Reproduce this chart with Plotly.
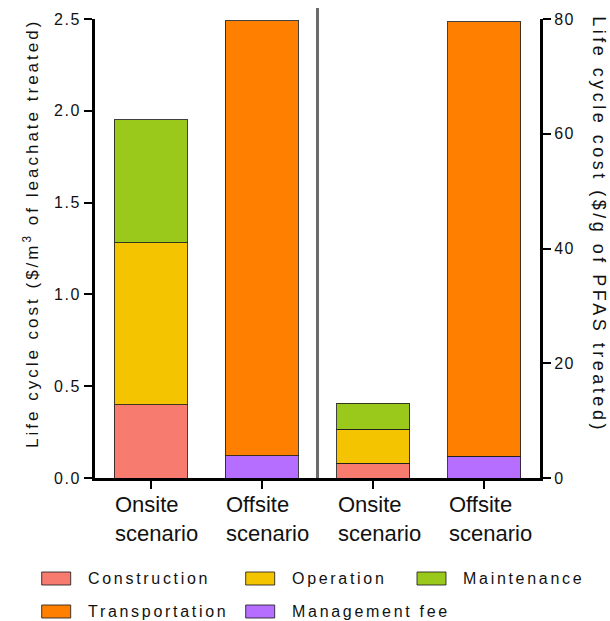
import plotly.graph_objects as go

# Category labels (one pair per panel)
scenario_labels = ["Onsite<br>scenario", "Offsite<br>scenario"]

# Left panel: life cycle cost per m3 of leachate treated [onsite, offsite]
m3_construction = [0.40, None]
m3_operation = [0.88, None]
m3_maintenance = [0.67, None]
m3_management = [None, 0.12]
m3_transportation = [None, 2.37]

# Right panel: life cycle cost per g of PFAS treated [onsite, offsite]
g_construction = [2.56, None]
g_operation = [5.93, None]
g_maintenance = [4.50, None]
g_management = [None, 3.83]
g_transportation = [None, 75.7]

left_pos = [0, 1]
right_pos = [2, 3]

FONT = "Liberation Sans, Arial, sans-serif"
OUTLINE = "rgba(30,30,30,0.85)"

# name, colour, per-m3 values, per-g values, legend slot (col, row)
series = [
    ("Construction", "#F87B6F", m3_construction, g_construction, (0, 0)),
    ("Operation", "#F5C400", m3_operation, g_operation, (1, 0)),
    ("Maintenance", "#9BC91B", m3_maintenance, g_maintenance, (2, 0)),
    ("Management fee", "#B56EFF", m3_management, g_management, (1, 1)),
    ("Transportation", "#FF8000", m3_transportation, g_transportation, (0, 1)),
]

fig = go.Figure()
for name, color, v_m3, v_g, _ in series:
    fig.add_trace(go.Bar(
        x=left_pos, y=v_m3, name=name, yaxis="y", width=0.656,
        marker=dict(color=color, line=dict(color=OUTLINE, width=1)),
        legendgroup=name, showlegend=False,
    ))
    fig.add_trace(go.Bar(
        x=right_pos, y=v_g, name=name, yaxis="y2", width=0.656,
        marker=dict(color=color, line=dict(color=OUTLINE, width=1)),
        legendgroup=name, showlegend=False,
    ))

# plot area in pixels: x 95..540, y 19..478
W, H = 610, 621
L, R, T, B = 95, 70, 19, 143
pw, ph = W - L - R, H - T - B


def px_x(px):
    return (px - L) / pw


def px_y(py):
    return (H - B - py) / ph


axis_common = dict(
    showline=True, linecolor="black", linewidth=3,
    ticks="outside", ticklen=8, tickwidth=2, tickcolor="black",
    showgrid=False, zeroline=False,
    tickfont=dict(family=FONT, size=16, color="#111"),
)

fig.update_layout(
    width=W, height=H,
    margin=dict(l=L, r=R, t=T, b=B, pad=0, autoexpand=False),
    paper_bgcolor="white", plot_bgcolor="white",
    barmode="stack", showlegend=False,
    font=dict(family=FONT, color="#111"),
    xaxis=dict(
        range=[-0.5, 3.5], tickvals=left_pos + right_pos, showticklabels=False,
        showline=True, linecolor="black", linewidth=3,
        ticks="outside", ticklen=8, tickwidth=2, tickcolor="black",
        showgrid=False, zeroline=False, fixedrange=True,
    ),
    yaxis=dict(range=[0, 2.5], dtick=0.5, tickformat=".1f", **axis_common),
    yaxis2=dict(range=[0, 80], dtick=20, overlaying="y", side="right", **axis_common),
)

# Axis titles (annotation indices 0 and 1)
fig.add_annotation(
    text="Life cycle cost ($/m<sup>3</sup> of leachate treated)",
    xref="paper", yref="paper", x=px_x(31), y=px_y(234),
    xanchor="center", yanchor="middle", textangle=-90, showarrow=False,
    font=dict(family=FONT, size=17, color="#111"),
)
fig.add_annotation(
    text="Life cycle cost ($/g of PFAS treated)",
    xref="paper", yref="paper", x=px_x(599), y=px_y(224),
    xanchor="center", yanchor="middle", textangle=90, showarrow=False,
    font=dict(family=FONT, size=18, color="#111"),
)

# Category labels under each bar (left-aligned two-line blocks, indices 2-5)
for pos, label in zip(left_pos + right_pos, scenario_labels + scenario_labels):
    fig.add_annotation(
        text=label, xref="x", yref="paper", x=pos, y=0,
        xanchor="center", yanchor="top", align="left", xshift=6, yshift=-12,
        showarrow=False, font=dict(family=FONT, size=22, color="#111"),
    )

# Legend: swatch + label per component (label annotations are indices 6-10)
swatch_left = [41.7, 245.7, 417.0]
label_left = [85.5, 289.5, 460.8]
row_mid = [578.5, 611.5]
for name, color, _, _, (c, r) in series:
    fig.add_shape(
        type="rect", xref="paper", yref="paper",
        x0=px_x(swatch_left[c]), x1=px_x(swatch_left[c] + 29),
        y0=px_y(row_mid[r] - 6.5), y1=px_y(row_mid[r] + 6.5),
        fillcolor=color, line=dict(color=OUTLINE, width=1),
    )
    fig.add_annotation(
        text=name, xref="paper", yref="paper",
        x=px_x(label_left[c]), y=px_y(row_mid[r]),
        xanchor="left", yanchor="middle", align="left", showarrow=False,
        font=dict(family=FONT, size=16, color="#111"),
    )

# Grey divider between the two panels
fig.add_shape(
    type="line", xref="paper", yref="paper", x0=0.5, x1=0.5, y0=0, y1=px_y(8),
    line=dict(color="#6b6b6b", width=3), layer="above",
)

# Stylesheet: wide letter spacing for legend / tick / title text
legend_sel = ", ".join('.annotation[data-index="%d"] .annotation-text' % i for i in range(6, 11))
css = """
.ytick text, .y2tick text { letter-spacing: 1.5px; }
.annotation[data-index="0"] .annotation-text { letter-spacing: 3.0px; }
.annotation[data-index="1"] .annotation-text { letter-spacing: 3.5px; }
%s { letter-spacing: 2.7px; }
""" % legend_sel
post = "var st = document.createElement('style'); st.textContent = %r; document.head.appendChild(st);" % css

fig.write_html("out.html", post_script=post, config={"displayModeBar": False})
